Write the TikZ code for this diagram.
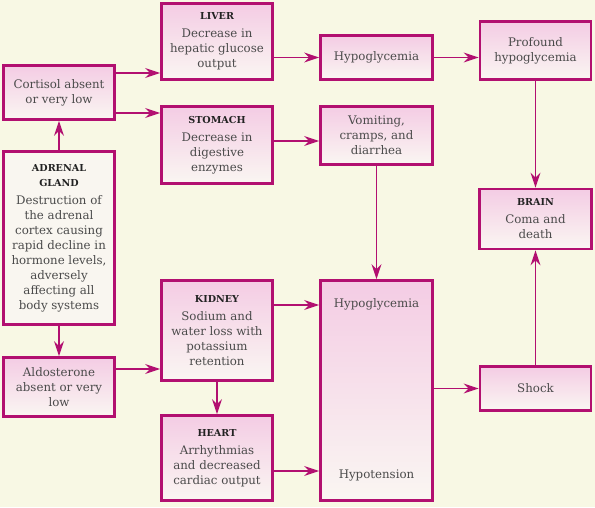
\documentclass[tikz,border=0pt]{standalone}
\usepackage{fontspec}
\setmainfont{DejaVu Serif}
\usetikzlibrary{arrows.meta,calc}
\definecolor{bg}{RGB}{248,248,228}
\definecolor{mag}{RGB}{178,16,112}
\definecolor{pinktop}{RGB}{244,204,228}
\definecolor{pinkbot}{RGB}{250,246,242}
\definecolor{paper}{RGB}{249,246,240}
\definecolor{txt}{RGB}{75,75,75}
\definecolor{ttlc}{RGB}{35,35,35}
\tikzset{
  box/.style={draw=mag, line width=2.8pt, top color=pinktop, bottom color=pinkbot,
    align=center, inner sep=2pt, text=txt,
    font=\fontsize{11.8}{15}\selectfont},
  plainbox/.style={box, top color=paper, bottom color=paper},
  lbl/.style={text=txt, font=\fontsize{11.8}{15}\selectfont, inner sep=0pt},
  arr/.style={draw=mag, line width=1.3pt, -{Stealth[length=15pt,width=10pt,inset=5pt]}},
}
\newcommand{\ttl}[1]{{\color{ttlc}\fontsize{9.6}{13}\selectfont\bfseries #1}}
\begin{document}
\begin{tikzpicture}[x=1pt,y=-1pt]
\fill[bg] (0,0) rectangle (595,507);
\useasboundingbox (0,0) rectangle (595,507);
% boxes
\node[box, minimum width=111, minimum height=54] (cort) at (59,92.5) {Cortisol absent\\or very low};
\node[box, minimum width=111, minimum height=76] (liv) at (217,41.5) {\ttl{LIVER}\\[3pt]Decrease in\\hepatic glucose\\output};
\node[box, minimum width=111, minimum height=77] (stom) at (217,145) {\ttl{STOMACH}\\[3pt]Decrease in\\digestive\\enzymes};
\node[plainbox, minimum width=111, minimum height=173] (adr) at (59,238) {\ttl{ADRENAL}\\\ttl{GLAND}\\[3pt]Destruction of\\the adrenal\\cortex causing\\rapid decline in\\hormone levels,\\adversely\\affecting all\\body systems};
\node[box, minimum width=112, minimum height=44] (hyp) at (376.5,57.5) {Hypoglycemia};
\node[box, minimum width=111, minimum height=58] (prof) at (535.5,50.5) {Profound\\hypoglycemia};
\node[box, minimum width=112, minimum height=58] (vom) at (376.5,135.5) {Vomiting,\\cramps, and\\diarrhea};
\node[box, minimum width=112, minimum height=60] (brain) at (535.5,219) {\ttl{BRAIN}\\[3pt]Coma and\\death};
\node[box, minimum width=111, minimum height=100] (kid) at (217,330.5) {\ttl{KIDNEY}\\[3pt]Sodium and\\water loss with\\potassium\\retention};
\node[box, minimum width=111, minimum height=59] (ald) at (59,387) {Aldosterone\\absent or very\\low};
\node[box, minimum width=111, minimum height=85] (heart) at (217,458) {\ttl{HEART}\\[3pt]Arrhythmias\\and decreased\\cardiac output};
\node[box, minimum width=112, minimum height=220] (big) at (376.5,390.5) {};
\node[lbl] (bighyp) at (376.5,304) {Hypoglycemia};
\node[lbl] (bighypo) at (376.5,475) {Hypotension};
\node[box, minimum width=111, minimum height=44] (shock) at (535.5,388.5) {Shock};
% connectors
\draw[arr] (cort.east |- 0,73) -- (liv.west |- 0,73);
\draw[arr] (cort.east |- 0,113) -- (stom.west |- 0,113);
\draw[arr] (adr.north) -- (cort.south);
\draw[arr] (adr.south) -- (ald.north);
\draw[arr] (ald.east |- 0,369) -- (kid.west |- 0,369);
\draw[arr] (liv.east |- hyp.west) -- (hyp.west);
\draw[arr] (hyp.east) -- (prof.west |- hyp.east);
\draw[arr] (stom.east |- 0,141) -- (vom.west |- 0,141);
\draw[arr] (prof.south) -- (brain.north);
\draw[arr] (vom.south) -- (big.north);
\draw[arr] (kid.east |- 0,305) -- (big.west |- 0,305);
\draw[arr] (kid.south) -- (heart.north);
\draw[arr] (heart.east |- 0,471) -- (big.west |- 0,471);
\draw[arr] (big.east |- shock.west) -- (shock.west);
\draw[arr] (shock.north) -- (brain.south);
\end{tikzpicture}
\end{document}
